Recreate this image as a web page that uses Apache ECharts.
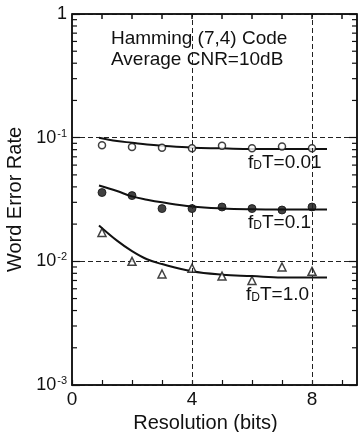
<!DOCTYPE html>
<html>
<head>
<meta charset="utf-8">
<script src="https://cdn.jsdelivr.net/npm/echarts@6/dist/echarts.min.js"></script>
<style>
  html, body { margin: 0; padding: 0; background: #fff; }
  #chart { width: 360px; height: 432px; }
</style>
</head>
<body>
<div id="chart"></div>
<script>
// measured points (resolution in bits)
const bits = [1, 2, 3, 4, 5, 6, 7, 8];
const wer001 = [0.087, 0.084, 0.083, 0.082, 0.086, 0.082, 0.085, 0.082];
const wer01 = [0.036, 0.034, 0.0267, 0.0267, 0.0275, 0.0267, 0.026, 0.0275];
const wer10 = [0.0171, 0.0100, 0.0079, 0.0088, 0.0076, 0.0070, 0.0090, 0.0083];

// fitted curves
const fitBits = [0.9, 1.5, 2, 2.5, 3, 4, 5, 6, 7, 8, 8.5];
const fit001 = [0.100, 0.094, 0.091, 0.088, 0.086, 0.083, 0.082, 0.081, 0.081, 0.081, 0.081];
const fit01 = [0.041, 0.037, 0.0335, 0.0315, 0.030, 0.0278, 0.0268, 0.0264, 0.0263, 0.0263, 0.0263];
const fit10 = [0.0195, 0.0147, 0.0121, 0.0104, 0.0095, 0.0083, 0.0078, 0.0076, 0.0074, 0.0074, 0.0074];

const decades = [0.001, 0.01, 0.1, 1];
const minorTicks = [];
decades.slice(0, 3).forEach(d => {
  for (let m = 2; m <= 9; m++) minorTicks.push(+(d * m).toPrecision(3));
});
const topTicks = [1, 2, 3, 4, 5, 6, 7, 8, 9];

const font = "'Liberation Sans', Arial, sans-serif";
const pair = (xs, ys) => xs.map((x, i) => [x, ys[i]]);

const chart = echarts.init(document.getElementById("chart"));

const axisLineStyle = { show: true, onZero: false, lineStyle: { color: "#111", width: 1.5 } };
const tickStyle = { color: "#111", width: 1.2 };
const subRich = { d: { fontSize: 12, fontFamily: font, fill: "#111", verticalAlign: "bottom", padding: [6, 0, 0, 0] } };

const option = {
  animation: false,
  grid: {
    left: 72, right: 3, top: 14, bottom: 47,
    containLabel: false, outerBoundsMode: "none",
    show: true, borderColor: "#111", borderWidth: 1.5
  },
  xAxis: {
    type: "value",
    min: 0,
    max: 9.5,
    interval: 1,
    position: "bottom",
    name: "Resolution (bits)",
    nameLocation: "middle",
    nameGap: 26,
    nameTextStyle: { fontFamily: font, fontSize: 20, color: "#111", padding: [0, 18, 0, 0] },
    axisLine: axisLineStyle,
    axisTick: { inside: true, length: 5, lineStyle: tickStyle },
    axisLabel: {
      showMaxLabel: false,
      fontFamily: font,
      fontSize: 19,
      color: "#111",
      margin: 5,
      formatter: v => (v % 4 === 0 ? String(v) : "")
    },
    splitLine: { show: false }
  },
  yAxis: [
    {
      type: "log",
      min: 0.001,
      max: 1,
      logBase: 10,
      position: "left",
      name: "Word Error Rate",
      nameLocation: "middle",
      nameGap: 29,
      nameTextStyle: { fontFamily: font, fontSize: 20, color: "#111" },
      axisLine: axisLineStyle,
      axisTick: { inside: true, length: 8, lineStyle: tickStyle },
      axisLabel: {
        fontFamily: font,
        fontSize: 18,
        color: "#111",
        margin: 5,
        formatter: v => {
          const e = Math.round(Math.log10(v));
          return e === 0 ? "1" : "10{s|-" + (-e) + "}";
        },
        rich: {
          s: { fontFamily: font, fontSize: 11, color: "#111", verticalAlign: "top", padding: [0, 0, 8, 1] }
        }
      },
      splitLine: { show: true, lineStyle: { color: "#222", width: 1, type: [5, 3] } }
    },
    {
      type: "log",
      min: 0.001,
      max: 1,
      logBase: 10,
      position: "right",
      axisLine: axisLineStyle,
      axisTick: { inside: true, length: 8, lineStyle: tickStyle },
      axisLabel: { show: false },
      splitLine: { show: false }
    }
  ],
  series: [
    {
      // minor log ticks on left and right frame
      type: "custom",
      silent: true,
      data: minorTicks.map(v => [0, v]),
      renderItem: (params, api) => {
        const cs = params.coordSys;
        const y = api.coord([0, api.value(1)])[1];
        const st = { stroke: "#111", lineWidth: 1.2 };
        return {
          type: "group",
          children: [
            { type: "line", shape: { x1: cs.x, y1: y, x2: cs.x + 5, y2: y }, style: st },
            { type: "line", shape: { x1: cs.x + cs.width - 5, y1: y, x2: cs.x + cs.width, y2: y }, style: st }
          ]
        };
      },
      z: 5
    },
    {
      // top frame with its ticks
      type: "custom",
      silent: true,
      clip: false,
      data: topTicks.map(v => [v, 1]),
      renderItem: (params, api) => {
        const cs = params.coordSys;
        const pt = api.coord([api.value(0), 1]);
        const st = { stroke: "#111", lineWidth: 1.5 };
        const children = [
          { type: "line", shape: { x1: pt[0], y1: pt[1], x2: pt[0], y2: pt[1] + 5 }, style: st }
        ];
        if (params.dataIndex === 0) {
          children.push({ type: "line", shape: { x1: cs.x, y1: pt[1], x2: cs.x + cs.width, y2: pt[1] }, style: st });
        }
        return { type: "group", children };
      },
      z: 10
    },
    {
      type: "line",
      data: [],
      markLine: {
        silent: true,
        symbol: "none",
        label: { show: false },
        lineStyle: { color: "#222", width: 1, type: [5, 3] },
        data: [{ xAxis: 4 }, { xAxis: 8 }]
      }
    },
    {
      name: "fDT=0.01 fit",
      type: "line",
      smooth: 0.4,
      showSymbol: false,
      data: pair(fitBits, fit001),
      lineStyle: { color: "#111", width: 2 },
      z: 3
    },
    {
      name: "fDT=0.1 fit",
      type: "line",
      smooth: 0.4,
      showSymbol: false,
      data: pair(fitBits, fit01),
      lineStyle: { color: "#111", width: 2 },
      z: 3
    },
    {
      name: "fDT=1.0 fit",
      type: "line",
      smooth: 0.4,
      showSymbol: false,
      data: pair(fitBits, fit10),
      lineStyle: { color: "#111", width: 2 },
      z: 3
    },
    {
      name: "fDT=0.01",
      type: "scatter",
      symbol: "circle",
      symbolSize: 7,
      data: pair(bits, wer001),
      itemStyle: { color: "#fff", borderColor: "#111", borderWidth: 1.5 },
      z: 4
    },
    {
      name: "fDT=0.1",
      type: "scatter",
      symbol: "circle",
      symbolSize: 8,
      data: pair(bits, wer01),
      itemStyle: { color: "#111", borderColor: "#111", borderWidth: 1 },
      z: 4
    },
    {
      name: "fDT=1.0",
      type: "scatter",
      symbol: "triangle",
      symbolSize: 8,
      data: pair(bits, wer10),
      itemStyle: { color: "#fff", borderColor: "#111", borderWidth: 1.5 },
      z: 4
    }
  ],
  graphic: [
    {
      type: "text",
      left: 111,
      top: 28,
      style: {
        text: "Hamming (7,4) Code\nAverage CNR=10dB",
        font: "19px " + font,
        fill: "#111",
        lineHeight: 21
      }
    },
    {
      type: "text",
      left: 248,
      top: 153,
      style: { text: "f{d|D}T=0.01", font: "19px " + font, fill: "#111", rich: subRich }
    },
    {
      type: "text",
      left: 248,
      top: 213,
      style: { text: "f{d|D}T=0.1", font: "19px " + font, fill: "#111", rich: subRich }
    },
    {
      type: "text",
      left: 246,
      top: 285,
      style: { text: "f{d|D}T=1.0", font: "19px " + font, fill: "#111", rich: subRich }
    }
  ]
};

chart.setOption(option);
</script>
</body>
</html>
